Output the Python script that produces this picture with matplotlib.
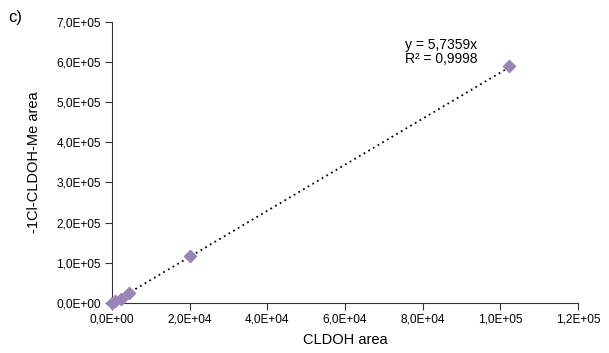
import matplotlib.pyplot as plt

# data
cldoh_area = [0, 800, 2200, 4300, 20000, 102300]
me_area = [0, 4000, 9000, 24000, 116000, 589000]

# trendline end points (y = 5,7359x)
trend_x = [0, 102300]
trend_y = [0, 586800]

xticks = [0, 20000, 40000, 60000, 80000, 100000, 120000]
xlabels = ["0,0E+00", "2,0E+04", "4,0E+04", "6,0E+04", "8,0E+04", "1,0E+05", "1,2E+05"]
yticks = [0, 100000, 200000, 300000, 400000, 500000, 600000, 700000]
ylabels = ["0,0E+00", "1,0E+05", "2,0E+05", "3,0E+05", "4,0E+05", "5,0E+05", "6,0E+05", "7,0E+05"]

plt.rcParams['font.family'] = ['Liberation Sans', 'DejaVu Sans']

fig = plt.figure(figsize=(6.09, 3.53), dpi=100)
ax = fig.add_axes([0.184, 0.142, 0.765, 0.796])

ax.plot(trend_x, trend_y, color='black', linestyle=(0, (1, 2)), linewidth=1.3, zorder=2)
ax.scatter(cldoh_area, me_area, marker='D', s=38, color='#9b84b6', zorder=3, clip_on=False)

ax.set_xlim(0, 120000)
ax.set_ylim(0, 700000)
ax.set_xticks(xticks)
ax.set_xticklabels(xlabels)
ax.set_yticks(yticks)
ax.set_yticklabels(ylabels)
ax.tick_params(labelsize=8.6, length=5, width=0.8, color='#333333', pad=3)

for s in ['top', 'right']:
    ax.spines[s].set_visible(False)
for s in ['left', 'bottom']:
    ax.spines[s].set_color('#333333')
    ax.spines[s].set_linewidth(0.8)

ax.set_xlabel("CLDOH area", fontsize=10.5, labelpad=5)
ax.set_ylabel("-1Cl-CLDOH-Me area", fontsize=10.5, labelpad=11)

fig.text(0.665, 0.893, "y = 5,7359x\nR² = 0,9998", fontsize=10, va='top', ha='left', linespacing=1.0)
fig.text(0.013, 0.972, "c)", fontsize=12, va='top')

fig.savefig("out.png", dpi=100)
